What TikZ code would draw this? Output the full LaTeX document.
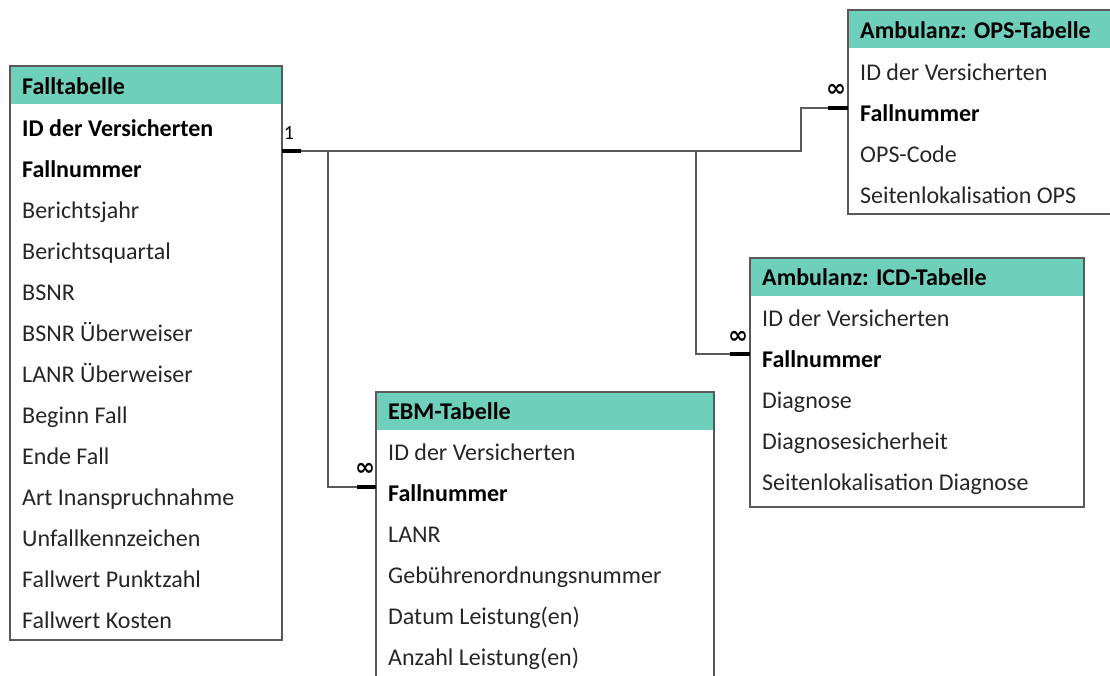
\documentclass[tikz,border=0pt]{standalone}
\usepackage{fontspec}
\setmainfont{Carlito}
\newfontfamily\symfont{DejaVu Sans}
\definecolor{headfill}{HTML}{6ECFBA}
\definecolor{frame}{HTML}{595959}
\definecolor{rowtext}{HTML}{262626}
\begin{document}
\begin{tikzpicture}[x=1pt,y=-1pt,
  tablebox/.style={draw=frame,line width=1.3pt},
  headbox/.style={fill=headfill},
  headtext/.style={anchor=base west,inner sep=0pt,yshift=-8pt,font=\fontsize{24}{28}\selectfont\bfseries,text=black},
  rowtxt/.style={anchor=base west,inner sep=0pt,yshift=-8pt,font=\fontsize{24}{28}\selectfont,text=rowtext},
  keytxt/.style={rowtxt,font=\fontsize{24}{28}\selectfont\bfseries,text=black},
  link/.style={draw=frame,line width=1.3pt},
  bar/.style={draw=black,line width=4.5pt},
  cardone/.style={inner sep=0pt,font=\fontsize{20}{22}\selectfont,text=black},
  cardmany/.style={inner sep=0pt,font=\symfont\fontsize{24}{26}\selectfont\bfseries,text=black}]
\useasboundingbox (0,0) rectangle (1110,675);
\clip (0,0) rectangle (1110,675);

% ---- Falltabelle ----
\fill[headbox] (10,66) rectangle (282,104);
\draw[tablebox] (10,66) rectangle (282,640);
\node[headtext] (fallhead) at (22,86) {Falltabelle};
\node[keytxt] (fall1) at (22,128) {ID der Versicherten};
\node[keytxt] (fall2) at (22,169) {Fallnummer};
\foreach \t [count=\i from 2] in {Berichtsjahr,Berichtsquartal,BSNR,BSNR Überweiser,LANR Überweiser,Beginn Fall,Ende Fall,Art Inanspruchnahme,Unfallkennzeichen,Fallwert Punktzahl,Fallwert Kosten}
  \node[rowtxt] (fallrow\i) at (22,{128+41*\i}) {\t};

% ---- EBM-Tabelle ----
\fill[headbox] (376,392) rectangle (714,430);
\draw[tablebox] (376,392) rectangle (714,720);
\node[headtext] (ebmhead) at (388,411) {EBM-Tabelle};
\node[rowtxt] (ebm1) at (388,452) {ID der Versicherten};
\node[keytxt] (ebm2) at (388,493) {Fallnummer};
\foreach \t [count=\i from 2] in {LANR,Gebührenordnungsnummer,Datum Leistung(en),Anzahl Leistung(en)}
  \node[rowtxt] (ebmrow\i) at (388,{452+41*\i}) {\t};

% ---- Ambulanz: ICD-Tabelle ----
\fill[headbox] (750,258) rectangle (1084,296);
\draw[tablebox] (750,258) rectangle (1084,507);
\node[headtext] (icdhead) at (762,277) {Ambulanz: ICD-Tabelle};
\node[rowtxt] (icd1) at (762,318) {ID der Versicherten};
\node[keytxt] (icd2) at (762,359) {Fallnummer};
\foreach \t [count=\i from 2] in {Diagnose,Diagnosesicherheit,Seitenlokalisation Diagnose}
  \node[rowtxt] (icdrow\i) at (762,{318+41*\i}) {\t};

% ---- Ambulanz: OPS-Tabelle ----
\fill[headbox] (848,10) rectangle (1120,48);
\draw[tablebox] (848,10) rectangle (1120,214);
\node[headtext] (opshead) at (860,30) {Ambulanz: OPS-Tabelle};
\node[rowtxt] (ops1) at (860,72) {ID der Versicherten};
\node[keytxt] (ops2) at (860,113) {Fallnummer};
\foreach \t [count=\i from 2] in {OPS-Code,Seitenlokalisation OPS}
  \node[rowtxt] (opsrow\i) at (860,{72+41*\i}) {\t};

% ---- relationship anchors ----
\coordinate (fallout) at (282,151);
\coordinate (fallbar) at (301,151);
\coordinate (opsin) at (848,108);
\coordinate (opsbar) at (828,108);
\coordinate (icdin) at (750,354);
\coordinate (icdbar) at (730,354);
\coordinate (ebmin) at (376,487);
\coordinate (ebmbar) at (357,487);
\coordinate (splitebm) at (328,151);
\coordinate (spliticd) at (696,151);
\coordinate (bendops) at (801,151);

% ---- relationship lines ----
\draw[link] (fallout) -- (bendops) |- (opsin);
\draw[link] (splitebm) |- (ebmin);
\draw[link] (spliticd) |- (icdin);
\draw[bar] (fallout) -- (fallbar);
\draw[bar] (opsbar) -- (opsin);
\draw[bar] (icdbar) -- (icdin);
\draw[bar] (ebmbar) -- (ebmin);

% ---- cardinalities ----
\node[cardone] (card1) at (289,133) {1};
\node[cardmany] (cardops) at (836,90) {∞};
\node[cardmany] (cardicd) at (738,337) {∞};
\node[cardmany] (cardebm) at (365,469) {∞};
\end{tikzpicture}
\end{document}
